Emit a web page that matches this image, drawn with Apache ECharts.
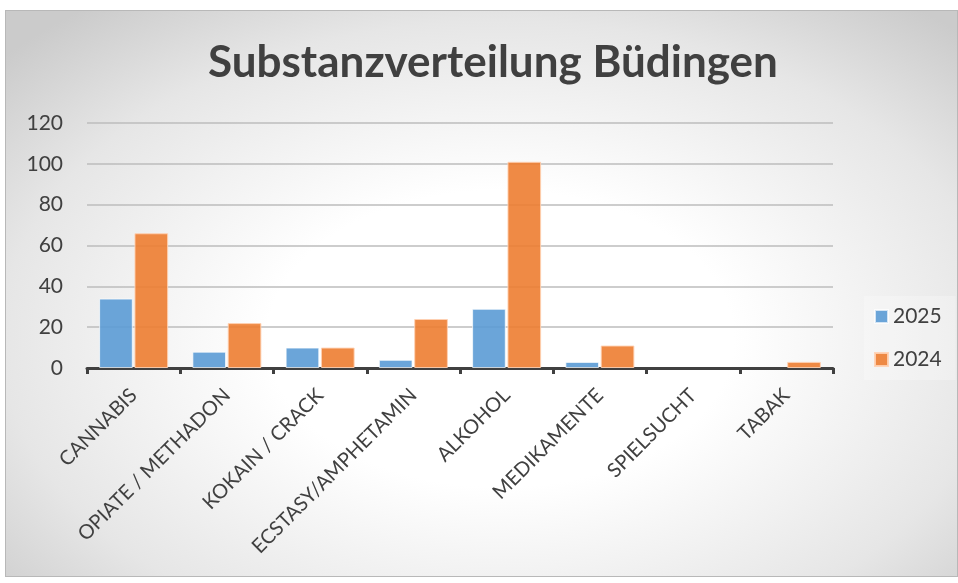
<!DOCTYPE html>
<html>
<head>
<meta charset="utf-8">
<script src="https://cdn.jsdelivr.net/npm/echarts@6/dist/echarts.min.js"></script>
<style>
  html, body { margin: 0; padding: 0; background: #fff; }
  #frame {
    position: absolute; left: 5px; top: 10px; width: 951px; height: 565px;
    border: 1px solid #b8b8b8;
    background: radial-gradient(ellipse 70% 75% at 52% 58%, #ffffff 0%, #ffffff 35%, #e6e6e6 75%, #cbcbcb 100%);
  }
  #chart { position: absolute; left: 0; top: 0; width: 958px; height: 583px; }
</style>
</head>
<body>
<div id="frame"></div>
<div id="chart"></div>
<script>
// substance categories
const categories = ['CANNABIS', 'OPIATE / METHADON', 'KOKAIN / CRACK', 'ECSTASY/AMPHETAMIN',
  'ALKOHOL', 'MEDIKAMENTE', 'SPIELSUCHT', 'TABAK'];
const values2025 = [34, 8, 10, 4, 29, 3, 0, 0];
const values2024 = [66, 22, 10, 24, 101, 11, 0, 3];

const font = 'Lato, "Open Sans", sans-serif';
const textColor = '#404040';

// empty bars are not drawn at all in the original
const noZero = arr => arr.map(v => (v === 0 ? null : v));

const chart = echarts.init(document.getElementById('chart'));
const option = {
  backgroundColor: 'transparent',
  animation: false,
  title: {
    text: 'Substanzverteilung Büdingen',
    left: 203,
    top: 36,
    textStyle: {
      fontFamily: font,
      fontSize: 44,
      fontWeight: 'bold',
      color: textColor
    }
  },
  legend: {
    orient: 'vertical',
    left: 864,
    top: 296,
    padding: [10, 14, 10, 10],
    backgroundColor: 'rgba(255,255,255,0.25)',
    itemWidth: 13,
    itemHeight: 13,
    itemGap: 22,
    icon: 'rect',
    textStyle: { fontFamily: font, fontSize: 21, color: textColor },
    data: ['2025', '2024']
  },
  grid: { left: 87, right: 125, top: 123, bottom: 215, containLabel: false },
  xAxis: {
    type: 'category',
    data: categories,
    axisLine: { lineStyle: { color: '#404040', width: 3 } },
    axisTick: { show: true, length: 6, lineStyle: { color: '#404040', width: 3 } },
    axisLabel: {
      rotate: 45,
      interval: 0,
      margin: 24,
      fontFamily: font,
      fontSize: 20,
      color: textColor
    }
  },
  yAxis: {
    type: 'value',
    min: 0,
    max: 120,
    interval: 20,
    axisLine: { show: false },
    axisTick: { show: false },
    axisLabel: { fontFamily: font, fontSize: 21, color: textColor, margin: 24 },
    splitLine: { lineStyle: { color: '#bdbdbd', width: 1.5 } }
  },
  series: [
    {
      name: '2025',
      type: 'bar',
      data: noZero(values2025),
      barGap: '5%',
      barCategoryGap: '26%',
      itemStyle: { color: 'rgba(91,155,213,0.9)', borderColor: 'rgba(255,255,255,0.7)', borderWidth: 1 }
    },
    {
      name: '2024',
      type: 'bar',
      data: noZero(values2024),
      barGap: '5%',
      barCategoryGap: '26%',
      itemStyle: { color: 'rgba(237,125,49,0.9)', borderColor: 'rgba(255,210,180,0.9)', borderWidth: 1 }
    }
  ]
};
chart.setOption(option);
</script>
</body>
</html>
